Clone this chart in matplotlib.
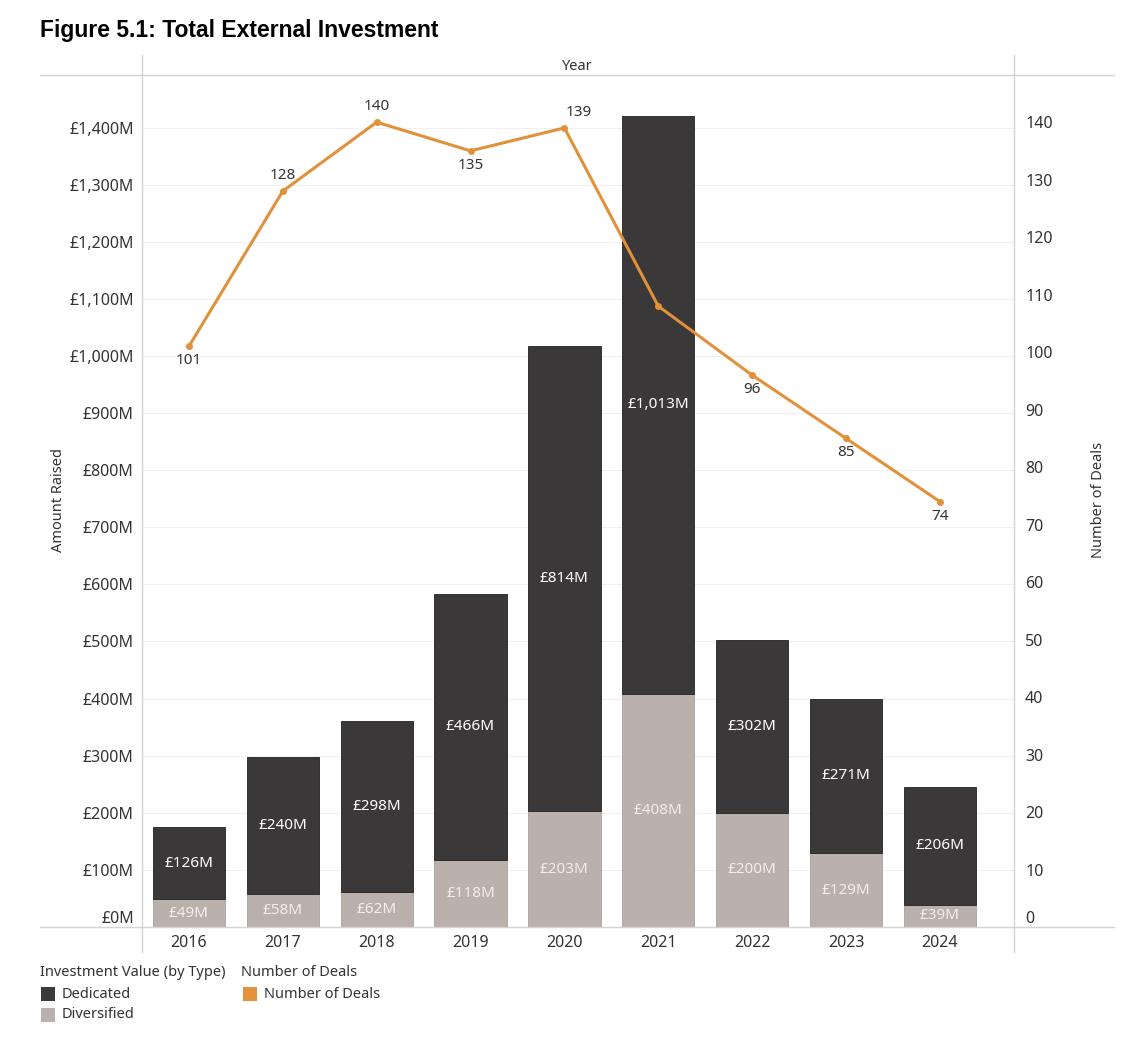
import matplotlib
matplotlib.use("Agg")
import matplotlib.pyplot as plt
from matplotlib.lines import Line2D
from matplotlib.patches import Rectangle

years = ["2016", "2017", "2018", "2019", "2020", "2021", "2022", "2023", "2024"]
diversified = [49, 58, 62, 118, 203, 408, 200, 129, 39]
dedicated = [126, 240, 298, 466, 814, 1013, 302, 271, 206]
deals = [101, 128, 140, 135, 139, 108, 96, 85, 74]
# where the deal label goes: 1 above, -1 below, 0 no label
deal_label_pos = [-1, 1, 1, -1, 1, 0, -1, -1, -1]

dark = "#3a3838"
light = "#bab0ac"
orange = "#e0913a"
text_col = "#333333"
line_col = "#d4d4d4"

plt.rcParams["font.family"] = ["Noto Sans", "DejaVu Sans"]

W, H = 1134, 1040
fig = plt.figure(figsize=(W / 100, H / 100), dpi=100)

def fx(px):
    return px / W

def fy(py):
    return 1 - py / H

ax = fig.add_axes([fx(142), fy(927), fx(1014) - fx(142), fy(75) - fy(927)])
ax2 = ax.twinx()

x = list(range(len(years)))
ax.bar(x, diversified, width=0.77, color=light, edgecolor="#a9a09c", linewidth=0.6, zorder=2)
ax.bar(x, dedicated, width=0.77, bottom=diversified, color=dark, edgecolor="#222222",
       linewidth=0.6, zorder=2)

for i in x:
    ax.text(i, diversified[i] / 2, "£%dM" % diversified[i], ha="center", va="center",
            color="#f2eeeb", fontsize=11, zorder=3)
    ax.text(i, diversified[i] + dedicated[i] / 2, "£{:,}M".format(dedicated[i]), ha="center",
            va="center", color="white", fontsize=11, zorder=3)

ax.set_xlim(-0.5, 8.79)
ax.set_ylim(0, 1492)
ax2.set_ylim(0, 148.2)

ax2.plot(x, deals, color=orange, linewidth=2.2, marker="o", markersize=4, zorder=4)
for i in x:
    if deal_label_pos[i] == 0:
        continue
    off = 11 if deal_label_pos[i] > 0 else -10.5
    dx = 10 if i == 4 else 0
    ax2.annotate(str(deals[i]), (i, deals[i]), xytext=(dx, off), textcoords="offset points",
                 ha="center", va="center", fontsize=11, color=text_col)

lt = list(range(0, 1401, 100))
ax.set_yticks(lt)
ax.set_yticklabels(["£{:,}M".format(v) for v in lt], fontsize=11.5, color=text_col)
ax.get_yticklabels()[0].set_va("bottom")
rt = list(range(0, 141, 10))
ax2.set_yticks(rt)
ax2.set_yticklabels([str(v) for v in rt], fontsize=11.5, color=text_col)
ax2.get_yticklabels()[0].set_va("bottom")

ax.set_xticks(x)
ax.set_xticklabels(years, fontsize=11.5, color=text_col)
ax.tick_params(axis="both", length=0, pad=6)
ax2.tick_params(axis="both", length=0, pad=8)

ax.yaxis.grid(True, color="#f0f0f0", linewidth=0.8, zorder=0)
ax.set_axisbelow(True)
for a in (ax, ax2):
    for s in a.spines.values():
        s.set_visible(False)

# frame lines like the original table layout
fig.add_artist(Line2D([fx(40), fx(1114)], [fy(75), fy(75)], color=line_col, linewidth=1))
fig.add_artist(Line2D([fx(40), fx(1114)], [fy(927), fy(927)], color=line_col, linewidth=1))
fig.add_artist(Line2D([fx(142), fx(142)], [fy(55), fy(952)], color=line_col, linewidth=1))
fig.add_artist(Line2D([fx(1014), fx(1014)], [fy(55), fy(952)], color=line_col, linewidth=1))

fig.text(fx(40), fy(30), "Figure 5.1: Total External Investment", fontsize=16.5, fontweight="bold",
         family=["Liberation Sans", "DejaVu Sans"], ha="left", va="center", color="black")
fig.text(fx(577), fy(66), "Year", fontsize=10.5, ha="center", va="center", color=text_col)
fig.text(fx(58), fy(500), "Amount Raised", fontsize=10.5, rotation=90, ha="center", va="center",
         color=text_col)
fig.text(fx(1098), fy(500), "Number of Deals", fontsize=10.5, rotation=90, ha="center",
         va="center", color=text_col)

# legend
fig.text(fx(40), fy(973), "Investment Value (by Type)", fontsize=10.5, ha="left", va="center",
         color=text_col)
fig.text(fx(241), fy(973), "Number of Deals", fontsize=10.5, ha="left", va="center", color=text_col)
legend_items = [(41, 994, dark, "Dedicated"), (41, 1015, light, "Diversified"),
                (243, 994, "#e8913b", "Number of Deals")]
for lx, ly, c, lab in legend_items:
    fig.add_artist(Rectangle((fx(lx), fy(ly + 7)), fx(14), fy(0) - fy(14), facecolor=c,
                             edgecolor="none", transform=fig.transFigure))
    fig.text(fx(lx + 21), fy(ly), lab, fontsize=10.5, ha="left", va="center", color=text_col)

fig.savefig("out.png", dpi=100)
